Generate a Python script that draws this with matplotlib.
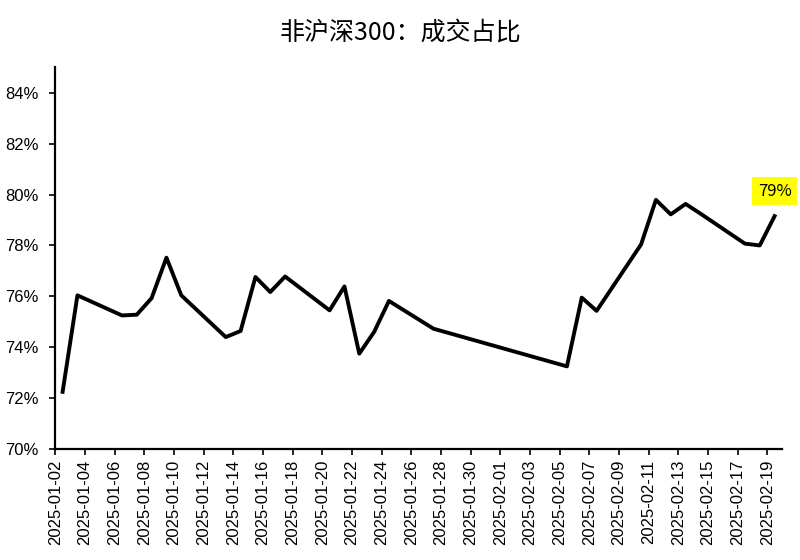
import matplotlib
matplotlib.use('Agg')
import matplotlib.pyplot as plt
import matplotlib.dates as mdates
from matplotlib.ticker import FuncFormatter
import pandas as pd

plt.rcParams['font.family'] = ['Liberation Sans', 'Noto Sans CJK SC', 'DejaVu Sans']

# 交易日
dates = [
    '2025-01-02', '2025-01-03', '2025-01-06', '2025-01-07', '2025-01-08',
    '2025-01-09', '2025-01-10', '2025-01-13', '2025-01-14', '2025-01-15',
    '2025-01-16', '2025-01-17', '2025-01-20', '2025-01-21', '2025-01-22',
    '2025-01-23', '2025-01-24', '2025-01-27', '2025-02-05', '2025-02-06',
    '2025-02-07', '2025-02-10', '2025-02-11', '2025-02-12', '2025-02-13',
    '2025-02-14', '2025-02-17', '2025-02-18', '2025-02-19',
]
# 非沪深300成交占比 (%)
share = [
    72.25, 76.04, 75.25, 75.28, 75.93,
    77.52, 76.04, 74.40, 74.64, 76.76,
    76.17, 76.78, 75.45, 76.39, 73.75,
    74.60, 75.82, 74.73, 73.25, 75.95,
    75.43, 78.04, 79.79, 79.22, 79.63,
    79.25, 78.07, 78.00, 79.15,
]
yticks = [70, 72, 74, 76, 78, 80, 82, 84]

# 数据点画在当天中午，刻度在零点
x = pd.to_datetime(dates) + pd.Timedelta(hours=12)

fig = plt.figure(figsize=(8, 5.6), dpi=100)
ax = fig.add_axes([0.069, 0.198, 0.9085, 0.682])

ax.plot(x, share, color='black', linewidth=2.8)

# 最新值标注
ax.annotate(f"{share[-1]:.0f}%", xy=(x[-1], share[-1]), xytext=(0, 18),
            textcoords='offset points', ha='center', va='center',
            fontsize=12, family=['Noto Sans CJK SC', 'DejaVu Sans'],
            bbox=dict(boxstyle='square,pad=0.35', facecolor='yellow', edgecolor='none'))

ax.set_ylim(70, 85)
ax.set_yticks(yticks)
ax.yaxis.set_major_formatter(FuncFormatter(lambda v, p: f"{v:.0f}%"))

ax.set_xlim(pd.Timestamp('2025-01-02'), pd.Timestamp('2025-02-20'))
ticks = pd.date_range('2025-01-02', '2025-02-19', freq='2D')
ax.set_xticks(ticks)
ax.xaxis.set_major_formatter(mdates.DateFormatter('%Y-%m-%d'))
plt.setp(ax.get_xticklabels(), rotation=90)

for s in ['top', 'right']:
    ax.spines[s].set_visible(False)
for s in ['left', 'bottom']:
    ax.spines[s].set_linewidth(1.6)
ax.tick_params(axis='both', labelsize=12, width=1.2, length=4, direction='out')
ax.tick_params(axis='y', pad=8)

fig.suptitle('非沪深300：成交占比', fontsize=18, y=0.965,
             family=['Noto Sans CJK SC', 'DejaVu Sans'])

fig.savefig('out.png', dpi=100)
